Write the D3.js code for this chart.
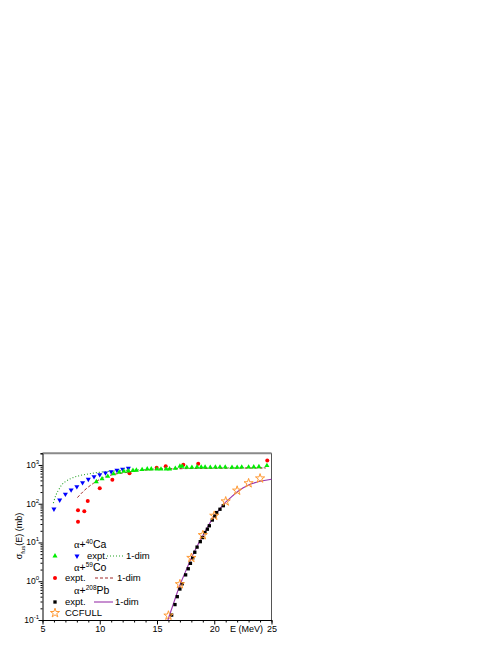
<!DOCTYPE html>
<html>
<head>
<meta charset="utf-8">
<script src="https://cdn.jsdelivr.net/npm/d3@7"></script>
<style>
  body { margin: 0; background: #fff; }
  text { font-family: "Liberation Sans", Arial, sans-serif; fill: #000; }
</style>
</head>
<body>
<svg id="chart" width="501" height="649"></svg>
<script>
// alpha + 40Ca, expt. (two data sets)
var caBlueE = [6, 6.5, 7, 7.5, 8, 8.5, 9, 9.5, 10, 10.5, 11, 11.5, 12, 12.5];
var caBlueS = [73, 125, 176, 227, 276, 350, 428, 500, 562, 622, 672, 730, 774, 822];
var caGreenE = [9.7, 10.2, 10.7, 11.2, 11.7, 12.1, 12.5, 12.9, 13.2, 13.7, 14.15, 14.5, 15.0, 15.35,
                15.8, 16.1, 16.6, 17.0, 17.2, 17.6, 18.05, 18.5, 18.86, 19.2, 19.65, 20.1, 20.5,
                20.96, 21.55, 22.0, 22.4, 23.0, 23.45, 23.9, 24.6];
var caGreenS = [370, 440, 510, 590, 650, 690, 700, 720, 730, 760, 790, 790, 780, 780,
                790, 790, 820, 930, 920, 870, 870, 890, 880, 880, 870, 880, 880,
                880, 870, 870, 880, 880, 890, 900, 960];
// alpha + 40Ca, 1-dim
var caDimE = [5.95, 6.15, 6.4, 6.7, 7.0, 7.5, 8.1, 9.0, 10.2, 11.3, 13.1, 15, 17, 20, 22.5, 24.5];
var caDimS = [104, 160, 227, 310, 372, 450, 520, 586, 660, 700, 743, 790, 815, 835, 845, 850];

// alpha + 59Co
var coE = [8.1, 8.1, 8.65, 8.95, 10.0, 11.1, 12.6, 14.97, 15.76, 17.3, 18.6, 24.63];
var coS = [34.5, 68, 64, 118, 250, 418, 615, 850, 925, 1010, 1080, 1300];
var coDimE = [8.05, 8.7, 9.45, 10.2, 11.0, 12.2, 13.4, 15, 17, 20, 22.5, 24.5];
var coDimS = [144, 227, 337, 454, 552, 633, 713, 765, 800, 820, 830, 835];

// alpha + 208Pb
var pbE = [16.28, 16.57, 16.77, 17.0, 17.2, 17.5, 17.73, 17.92, 18.12, 18.3, 18.5,
           18.78, 18.99, 19.19, 19.4, 19.57, 19.83, 20.05, 20.21, 20.5, 20.79];
var pbS = [0.134, 0.25, 0.40, 0.63, 0.86, 1.46, 2.1, 2.9, 4.0, 5.6, 7.6,
           10.5, 13.4, 18, 22, 27, 38, 48, 59, 72, 89];
var pbDimE = [15.95, 16.5, 17, 17.5, 18, 18.5, 19, 19.5, 20, 20.5, 21, 21.5, 22, 22.5, 23, 23.5, 24, 24.5, 25];
var pbDimS = [0.1, 0.3, 0.8, 1.8, 4.0, 8.0, 15, 28, 48, 75, 110, 150, 200, 255, 305, 345, 380, 405, 430];
var ccfullE = [16, 17, 18, 19, 20, 21, 22, 23, 24];
var ccfullS = [0.13, 0.84, 4.0, 15.5, 49, 115, 218, 338, 450];

var xTicks = [5, 10, 15, 20, 25];
var yTicks = [0.1, 1, 10, 100, 1000];
var yTickExp = ["-1", "0", "1", "2", "3"];

var svg = d3.select('#chart');

var x = d3.scaleLinear().domain([5, 25]).range([42.5, 271.5]);
var y = d3.scaleLog().domain([0.1, 2000]).range([620, 453.3]);

function pairs(a, b) {
    return a.map(function(v, i) { return [v, b[i]]; });
}

// frame
svg.append("line")
    .attr("x1", x(5)).attr("x2", x(25))
    .attr("y1", y(2000)).attr("y2", y(2000))
    .style("stroke", "#8a8a8a").style("stroke-width", 2);
svg.append("line")
    .attr("x1", x(25)).attr("x2", x(25))
    .attr("y1", y(2000)).attr("y2", y(0.1))
    .style("stroke", "#555").style("stroke-width", 1);

// x axis
var gx = svg.append("g").attr("transform", "translate(0," + y(0.1) + ")");
gx.call(d3.axisBottom(x).tickValues(d3.range(5, 26, 1)).tickSize(2.5).tickFormat(""));
gx.call(function(g) {
    g.selectAll(".tick line").filter(function(d) { return d % 5 === 0; }).attr("y2", 4.5);
});
gx.selectAll("path, line").style("stroke", "#000");
gx.selectAll(".tick").filter(function(d) { return xTicks.indexOf(d) >= 0; })
    .append("text")
    .attr("y", 12)
    .attr("text-anchor", "middle")
    .style("font-size", "9px")
    .text(function(d) { return d; });

svg.append("text")
    .attr("x", 230).attr("y", 632)
    .style("font-size", "9px")
    .text("E (MeV)");

// y axis
var minorY = [];
for (var p = -1; p < 4; p++) {
    for (var m = 1; m < 10; m++) {
        var v = m * Math.pow(10, p);
        if (v >= 0.1 && v <= 2000) minorY.push(v);
    }
}
var gy = svg.append("g").attr("transform", "translate(" + x(5) + ",0)");
gy.call(d3.axisLeft(y).tickValues(minorY).tickSize(2).tickFormat(""));
gy.call(function(g) {
    g.selectAll(".tick line").filter(function(d) { return yTicks.indexOf(d) >= 0; }).attr("x2", -4);
});
gy.selectAll("path, line").style("stroke", "#000");

yTicks.forEach(function(t, i) {
    var lab = svg.append("text")
        .attr("x", 39)
        .attr("y", y(t) + 3)
        .attr("text-anchor", "end")
        .style("font-size", "8.5px");
    lab.append("tspan").text("10");
    lab.append("tspan").attr("dy", -4).style("font-size", "6px").text(yTickExp[i]);
});

var ylab = svg.append("text")
    .attr("transform", "translate(22,536) rotate(-90)")
    .attr("text-anchor", "middle")
    .style("font-size", "9px");
ylab.append("tspan").text("σ");
ylab.append("tspan").attr("dy", 2.5).style("font-size", "6px").text("fus");
ylab.append("tspan").attr("dy", -2.5).text("(E) (mb)");

// lines
var line = d3.line()
    .curve(d3.curveMonotoneX)
    .x(function(d) { return x(d[0]); })
    .y(function(d) { return y(d[1]); });

svg.append("path").datum(pairs(caDimE, caDimS))
    .attr("d", line)
    .style("fill", "none").style("stroke", "#22a022")
    .style("stroke-width", 1.1).style("stroke-dasharray", "1,2");

svg.append("path").datum(pairs(coDimE, coDimS))
    .attr("d", line)
    .style("fill", "none").style("stroke", "#a02828")
    .style("stroke-width", 1).style("stroke-dasharray", "3,2");

svg.append("path").datum(pairs(pbDimE, pbDimS))
    .attr("d", line)
    .style("fill", "none").style("stroke", "#9933aa")
    .style("stroke-width", 1.1);

// markers
var triUp = d3.symbol().type(d3.symbolTriangle).size(11);
var square = d3.symbol().type(d3.symbolSquare).size(11);
var star = d3.symbol().type(d3.symbolStar).size(26);

function drawPoints(data, sym, fill, stroke, rot) {
    svg.append("g").selectAll("path")
        .data(data)
        .enter().append("path")
        .attr("d", sym)
        .attr("transform", function(d) {
            return "translate(" + x(d[0]) + "," + y(d[1]) + ")" + (rot ? " rotate(" + rot + ")" : "");
        })
        .style("fill", fill)
        .style("stroke", stroke || "none")
        .style("stroke-width", 1);
}

drawPoints(pairs(caBlueE, caBlueS), triUp, "#0000ff", null, 180);
svg.append("g").selectAll("circle")
    .data(pairs(coE, coS))
    .enter().append("circle")
    .attr("cx", function(d) { return x(d[0]); })
    .attr("cy", function(d) { return y(d[1]); })
    .attr("r", 2)
    .style("fill", "#ff0000");
drawPoints(pairs(caGreenE, caGreenS), triUp, "#00ee00");
drawPoints(pairs(pbE, pbS), square, "#000");
drawPoints(pairs(ccfullE, ccfullS), star, "none", "#ff9933");

// legend
var lg = svg.append("g").style("font-size", "9.5px");

function title(yy, mass, el) {
    var t = lg.append("text").attr("x", 74).attr("y", yy + 3.6).style("font-size", "10.5px");
    t.append("tspan").style("font-family", "'Liberation Serif', serif").text("α");
    t.append("tspan").text("+");
    t.append("tspan").attr("dy", -4).style("font-size", "6.5px").text(mass);
    t.append("tspan").attr("dy", 4).text(el);
}

title(544, "40", "Ca");
lg.append("path").attr("d", triUp).attr("transform", "translate(55,556)").style("fill", "#00ee00");
lg.append("path").attr("d", triUp).attr("transform", "translate(77,556) rotate(180)").style("fill", "#0000ff");
lg.append("text").attr("x", 87).attr("y", 559.3).text("expt.");
lg.append("line").attr("x1", 107).attr("x2", 123).attr("y1", 556).attr("y2", 556)
    .style("stroke", "#22a022").style("stroke-width", 1.1).style("stroke-dasharray", "1,2");
lg.append("text").attr("x", 126).attr("y", 559.3).text("1-dim");

title(567.5, "59", "Co");
lg.append("circle").attr("cx", 55).attr("cy", 578).attr("r", 2).style("fill", "#ff0000");
lg.append("text").attr("x", 65).attr("y", 581.3).text("expt.");
lg.append("line").attr("x1", 95).attr("x2", 115).attr("y1", 578).attr("y2", 578)
    .style("stroke", "#a02828").style("stroke-dasharray", "3,2");
lg.append("text").attr("x", 117).attr("y", 581.3).text("1-dim");

title(590, "208", "Pb");
lg.append("path").attr("d", square).attr("transform", "translate(55,602)").style("fill", "#000");
lg.append("text").attr("x", 65).attr("y", 605.3).text("expt.");
lg.append("line").attr("x1", 94).attr("x2", 113).attr("y1", 602).attr("y2", 602)
    .style("stroke", "#9933aa").style("stroke-width", 1.1);
lg.append("text").attr("x", 115).attr("y", 605.3).text("1-dim");

lg.append("path").attr("d", star).attr("transform", "translate(55,613)")
    .style("fill", "none").style("stroke", "#ff9933");
lg.append("text").attr("x", 65).attr("y", 616.3).text("CCFULL");
</script>
</body>
</html>
